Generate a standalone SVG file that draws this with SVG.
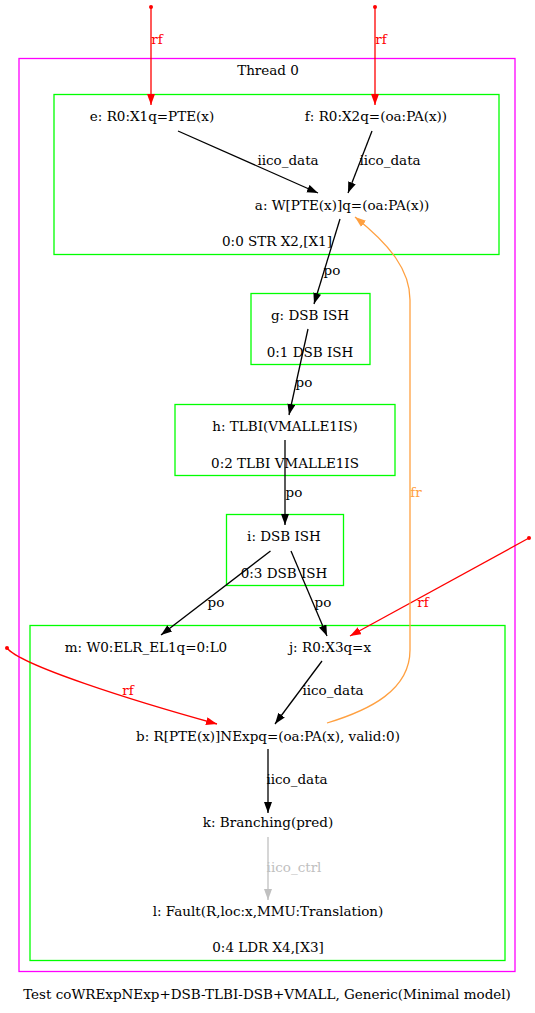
<svg xmlns="http://www.w3.org/2000/svg" width="535" height="1013" viewBox="0 0 535 1013">
<style>
text{font-family:"DejaVu Serif","Liberation Serif",serif;font-size:13.5px;text-anchor:middle;fill:#000}
.cl{fill:none;stroke:#00ff00;stroke-width:1.3}
.th{fill:none;stroke:#ff00ff;stroke-width:1.3}
.e{fill:none;stroke:#000;stroke-width:1.3}
.rf{fill:none;stroke:#ff0000;stroke-width:1.3}
.fr{fill:none;stroke:#ffa040;stroke-width:1.3}
.ct{fill:none;stroke:#c0c0c0;stroke-width:1.3}
.lr{fill:#ff0000}
.lf{fill:#ffa040}
.lc{fill:#c0c0c0}
</style>
<defs>
<marker id="ab" markerUnits="userSpaceOnUse" markerWidth="12" markerHeight="9" refX="11" refY="4" orient="auto"><path d="M0,0L11,4L0,8z" fill="#000"/></marker>
<marker id="ar" markerUnits="userSpaceOnUse" markerWidth="12" markerHeight="9" refX="11" refY="4" orient="auto"><path d="M0,0L11,4L0,8z" fill="#ff0000"/></marker>
<marker id="ao" markerUnits="userSpaceOnUse" markerWidth="12" markerHeight="9" refX="11" refY="4" orient="auto"><path d="M0,0L11,4L0,8z" fill="#ffa040"/></marker>
<marker id="ag" markerUnits="userSpaceOnUse" markerWidth="12" markerHeight="9" refX="11" refY="4" orient="auto"><path d="M0,0L11,4L0,8z" fill="#c0c0c0"/></marker>
</defs>
<rect width="535" height="1013" fill="#fff"/>
<g id="thread0">
<rect class="th" x="19" y="58.5" width="496" height="913"/>
<text x="268" y="75">Thread 0</text>
</g>
<g id="instr0">
<rect class="cl" x="54" y="94.5" width="445" height="160"/>
<text x="277" y="246">0:0 STR X2,[X1]</text>
</g>
<g id="node_e"><text x="152" y="121">e: R0:X1q=PTE(x)</text></g>
<g id="node_f"><text x="376" y="121">f: R0:X2q=(oa:PA(x))</text></g>
<g id="node_a"><text x="342" y="210">a: W[PTE(x)]q=(oa:PA(x))</text></g>
<g id="node_g">
<rect class="cl" x="251" y="293.5" width="119" height="71"/>
<text x="310" y="320">g: DSB ISH</text>
<text x="310" y="357">0:1 DSB ISH</text>
</g>
<g id="node_h">
<rect class="cl" x="175" y="404.5" width="220" height="71"/>
<text x="285" y="431">h: TLBI(VMALLE1IS)</text>
<text x="285" y="468">0:2 TLBI VMALLE1IS</text>
</g>
<g id="node_i">
<rect class="cl" x="226.5" y="514.5" width="117" height="71"/>
<text x="284" y="541">i: DSB ISH</text>
<text x="284" y="578">0:3 DSB ISH</text>
</g>
<g id="instr4">
<rect class="cl" x="30" y="625.5" width="475" height="335"/>
<text x="268" y="952">0:4 LDR X4,[X3]</text>
</g>
<g id="node_m"><text x="146" y="652">m: W0:ELR_EL1q=0:L0</text></g>
<g id="node_j"><text x="330" y="652">j: R0:X3q=x</text></g>
<g id="node_b"><text x="268" y="741">b: R[PTE(x)]NExpq=(oa:PA(x), valid:0)</text></g>
<g id="node_k"><text x="268" y="827">k: Branching(pred)</text></g>
<g id="node_l"><text x="268" y="916">l: Fault(R,loc:x,MMU:Translation)</text></g>
<g id="connectors">
<circle cx="151" cy="7" r="2" class="lr"/>
<path class="rf" d="M151,7L151,105" marker-end="url(#ar)"/>
<text x="157" y="44" class="lr">rf</text>
<circle cx="375" cy="7" r="2" class="lr"/>
<path class="rf" d="M375,7L375,105" marker-end="url(#ar)"/>
<text x="381" y="44" class="lr">rf</text>
<path class="e" d="M178,131L318,193" marker-end="url(#ab)"/>
<text x="288" y="165">iico_data</text>
<path class="e" d="M372,131L348,193" marker-end="url(#ab)"/>
<text x="390" y="165">iico_data</text>
<path class="e" d="M340,219L314,304" marker-end="url(#ab)"/>
<text x="332" y="275">po</text>
<path class="e" d="M308,329L289,415" marker-end="url(#ab)"/>
<text x="304" y="387">po</text>
<path class="e" d="M285,440L285,525" marker-end="url(#ab)"/>
<text x="294" y="497">po</text>
<path class="e" d="M270.5,551L161,635" marker-end="url(#ab)"/>
<text x="216" y="607">po</text>
<path class="e" d="M291,551L327,636" marker-end="url(#ab)"/>
<text x="323" y="607">po</text>
<circle cx="529" cy="538" r="2" class="lr"/>
<path class="rf" d="M529,538L350,636" marker-end="url(#ar)"/>
<text x="423" y="607" class="lr">rf</text>
<circle cx="7" cy="648" r="2" class="lr"/>
<path class="rf" d="M7,648C20,665 130,700 217,724" marker-end="url(#ar)"/>
<text x="128" y="695" class="lr">rf</text>
<path class="e" d="M322,661L275,724" marker-end="url(#ab)"/>
<text x="333" y="695">iico_data</text>
<path class="fr" d="M327,723C370,710 410,690 410,650L410,300C410,270 390,245 355,217" marker-end="url(#ao)"/>
<text x="416" y="497" class="lf">fr</text>
<path class="e" d="M268,749L268,813" marker-end="url(#ab)"/>
<text x="297" y="784">iico_data</text>
<path class="ct" d="M268,837L268,900" marker-end="url(#ag)"/>
<text x="294" y="872" class="lc">iico_ctrl</text>
</g>
<text x="267" y="999">Test coWRExpNExp+DSB-TLBI-DSB+VMALL, Generic(Minimal model)</text>
</svg>
